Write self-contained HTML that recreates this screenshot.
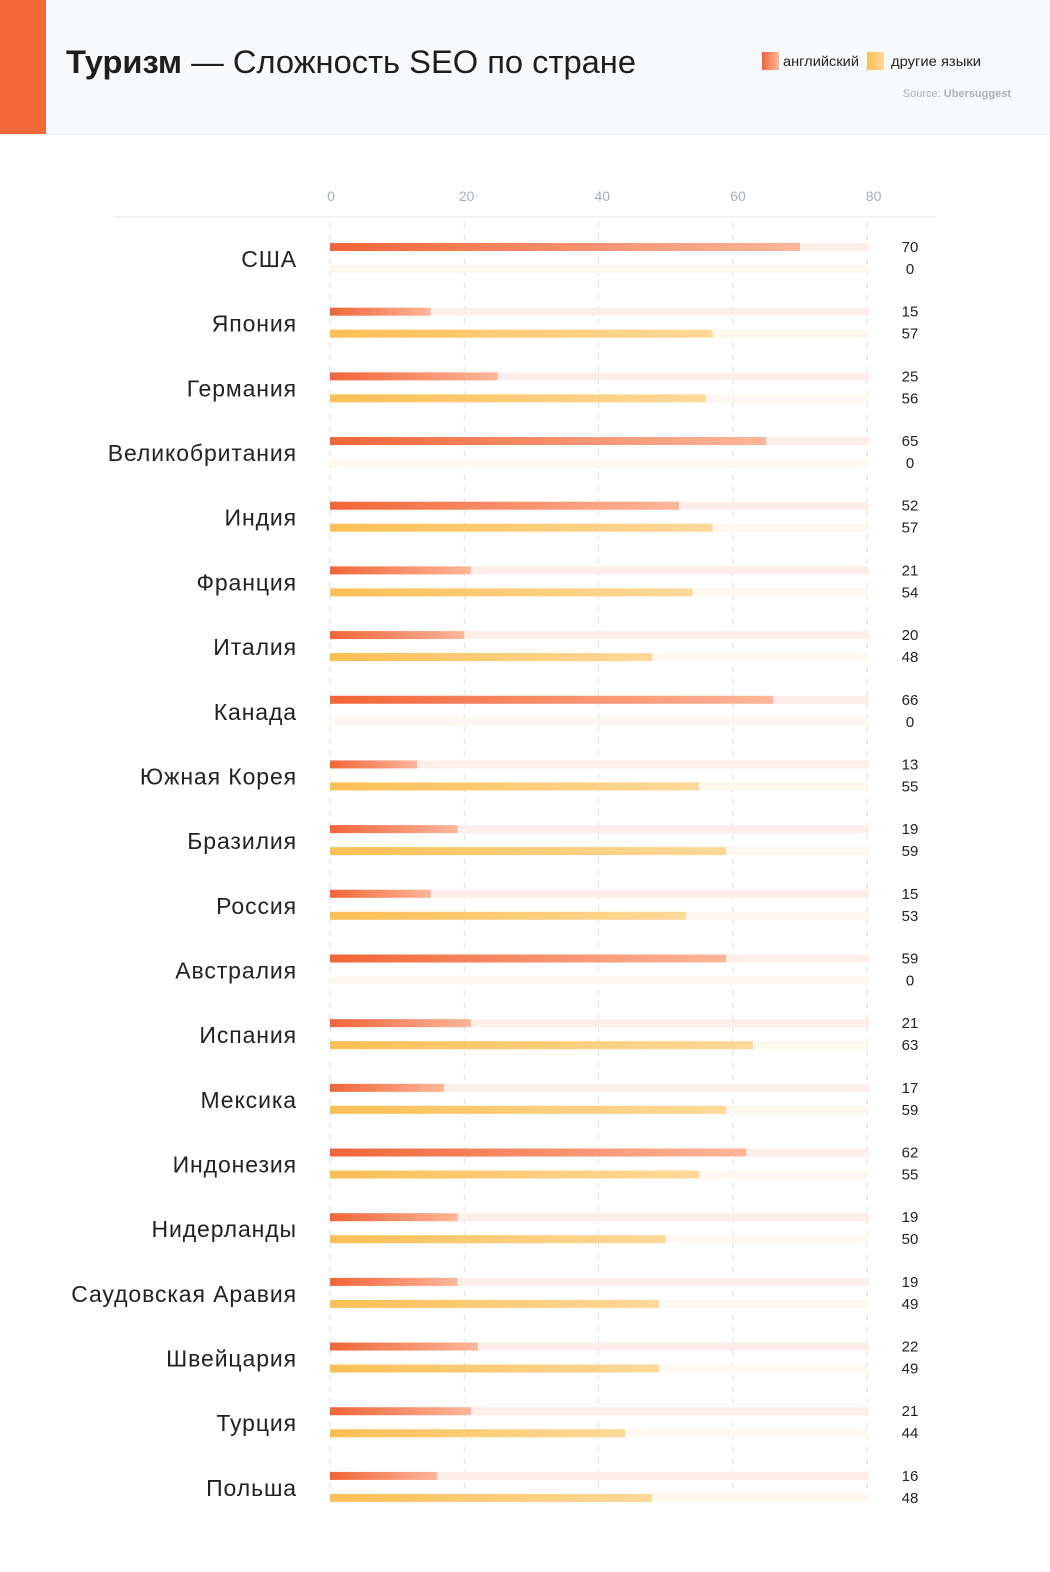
<!DOCTYPE html>
<html><head><meta charset="utf-8">
<style>
html,body{margin:0;padding:0;background:#fff;}
body{width:1050px;height:1567px;overflow:hidden;font-family:"Liberation Sans","DejaVu Sans",sans-serif;}
</style></head>
<body>
<svg id="chart" width="1050" height="1567" xmlns="http://www.w3.org/2000/svg" font-family="Liberation Sans, DejaVu Sans, sans-serif">
<defs>
<linearGradient id="gEn" x1="0" x2="1" y1="0" y2="0"><stop offset="0" stop-color="#f26538"/><stop offset="1" stop-color="#fdb69a"/></linearGradient>
<linearGradient id="gOt" x1="0" x2="1" y1="0" y2="0"><stop offset="0" stop-color="#fbbf55"/><stop offset="1" stop-color="#fed99a"/></linearGradient>
</defs>
<rect x="0" y="0" width="1050" height="134" fill="#f8f9fb"/>
<rect x="0" y="0" width="46" height="134" fill="#f26838"/>
<line x1="0" y1="134.5" x2="1050" y2="134.5" stroke="#eceef0"/>
<text x="66" y="73" font-size="32" fill="#1e1e1e" textLength="570" lengthAdjust="spacingAndGlyphs"><tspan font-weight="bold">Туризм</tspan> — Сложность SEO по стране</text>
<g>
<rect x="762" y="52" width="17" height="18" fill="url(#gEn)"/>
<text x="783" y="66" font-size="14" fill="#222" textLength="76" lengthAdjust="spacingAndGlyphs">английский</text>
<rect x="867" y="52" width="17" height="18" fill="url(#gOt)"/>
<text x="891" y="66" font-size="14" fill="#222" textLength="90" lengthAdjust="spacingAndGlyphs">другие языки</text>
</g>
<text x="1011" y="97" font-size="11" fill="#a9b2b8" text-anchor="end">Source: <tspan font-weight="bold">Ubersuggest</tspan></text>
<line x1="114" y1="217" x2="936" y2="217" stroke="#eceef0" stroke-width="1.5"/>
<g id="grid"></g>
<g id="rows"></g>
</svg>
<script>
const countries = ["США","Япония","Германия","Великобритания","Индия","Франция","Италия","Канада","Южная Корея","Бразилия","Россия","Австралия","Испания","Мексика","Индонезия","Нидерланды","Саудовская Аравия","Швейцария","Турция","Польша"];
const english = [70,15,25,65,52,21,20,66,13,19,15,59,21,17,62,19,19,22,21,16];
const other = [0,57,56,0,57,54,48,0,55,59,53,0,63,59,55,50,49,49,44,48];
const ticks = [0,20,40,60,80];
const NS = "http://www.w3.org/2000/svg";
const x0 = 330, x1 = 867, vmax = 80, trackEnd = 869;
const xs = v => x0 + (x1 - x0) * v / vmax;
const rowY = i => 243 + i * 64.68;
function mk(tag, attrs, parent){const e=document.createElementNS(NS,tag);for(const k in attrs)e.setAttribute(k,attrs[k]);parent.appendChild(e);return e;}
const grid = document.getElementById('grid');
const rows = document.getElementById('rows');
ticks.forEach(t=>{
  const l = mk('line',{x1:xs(t),x2:xs(t),y1:222,y2:1503,stroke:'#dfe2e5','stroke-dasharray':'6,6'},grid);
  
  
  const tx = mk('text',{x:xs(t)+1+t*0.07,y:201,'font-size':14,fill:'#a6b0b6','text-anchor':'middle'},grid);
  tx.textContent = t;
  
  
});
countries.forEach((c,i)=>{
  const y = rowY(i);
  const g = mk('g',{},rows);
  
  
  const lab = mk('text',{x:297,y:y+24,'font-size':23,'letter-spacing':'0.9',fill:'#222','text-anchor':'end'},g);
  lab.textContent = c;
  
  
  const t1 = mk('rect',{x:x0,y:y,width:trackEnd-x0,height:8,fill:'#fdeeea'},g);
  
  
  const t2 = mk('rect',{x:x0,y:y+22,width:trackEnd-x0,height:8,fill:'#fef8ef'},g);
  
  
  const b1 = mk('rect',{x:x0,y:y,width:xs(english[i])-x0,height:8,fill:'url(#gEn)'},g);
  
  
  const b2 = mk('rect',{x:x0,y:y+22,width:xs(other[i])-x0,height:8,fill:'url(#gOt)'},g);
  
  
  const v1 = mk('text',{x:910,y:y+9,'font-size':15,fill:'#222','text-anchor':'middle'},g);
  v1.textContent = english[i];
  
  
  const v2 = mk('text',{x:910,y:y+31,'font-size':15,fill:'#222','text-anchor':'middle'},g);
  v2.textContent = other[i];
  
  
});
</script>
</body></html>
